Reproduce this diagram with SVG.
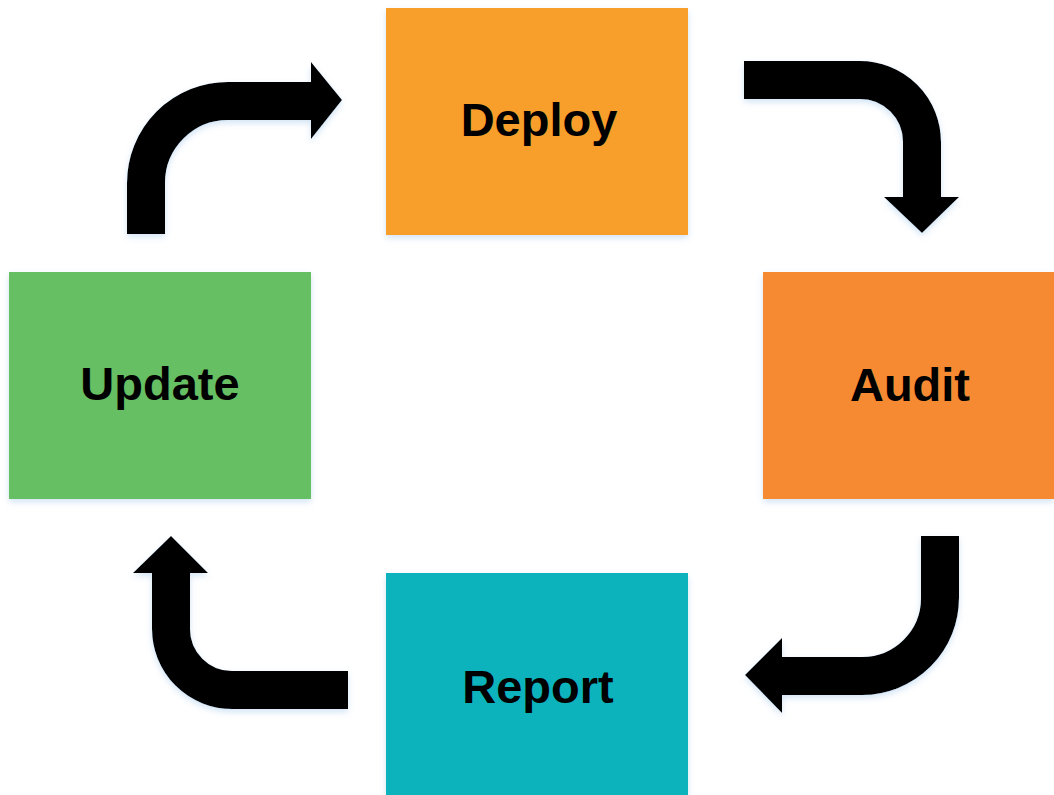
<svg xmlns="http://www.w3.org/2000/svg" width="1054" height="795" viewBox="0 0 1054 795">
<style>
.lbl{font-family:"Liberation Sans",Arial,sans-serif;font-weight:bold;font-size:47px;fill:#000;text-anchor:middle}
.band{fill:none;stroke:#000;stroke-width:38}
.head{fill:#000}
</style>
<defs>
<filter id="sh" x="-10%" y="-10%" width="120%" height="120%">
<feDropShadow dx="0" dy="3" stdDeviation="3" flood-color="#9cc3e8" flood-opacity="0.45"/>
</filter>
</defs>
<rect width="1054" height="795" fill="#fff"/>
<g id="connectors" filter="url(#sh)">
<g id="c-update-deploy">
<path class="band" d="M146,234 V183 A82,82 0 0 1 228,101 H312"/>
<polygon class="head" points="311,62 342,100 311,139"/>
</g>
<g id="c-deploy-audit">
<path class="band" d="M744,80 H860 A62,62 0 0 1 922,142 V198"/>
<polygon class="head" points="884,197 959,197 922,233"/>
</g>
<g id="c-audit-report">
<path class="band" d="M940,536 V598 A78,78 0 0 1 862,676 H781"/>
<polygon class="head" points="782,638 782,713 745,675"/>
</g>
<g id="c-report-update">
<path class="band" d="M348,690 H232 A61,61 0 0 1 171,629 V572"/>
<polygon class="head" points="133,573 208,573 171,536"/>
</g>
</g>
<g id="deploy">
<rect x="386" y="8" width="302" height="227" fill="#F89E2A" filter="url(#sh)"/>
<text class="lbl" x="539" y="136">Deploy</text>
</g>
<g id="audit">
<rect x="763" y="272" width="291" height="227" fill="#F58A33" filter="url(#sh)"/>
<text class="lbl" x="910" y="401">Audit</text>
</g>
<g id="report">
<rect x="386" y="573" width="302" height="222" fill="#0CB3BC" filter="url(#sh)"/>
<text class="lbl" x="538" y="703">Report</text>
</g>
<g id="update">
<rect x="9" y="272" width="302" height="227" fill="#66BF64" filter="url(#sh)"/>
<text class="lbl" x="160" y="400">Update</text>
</g>
</svg>
